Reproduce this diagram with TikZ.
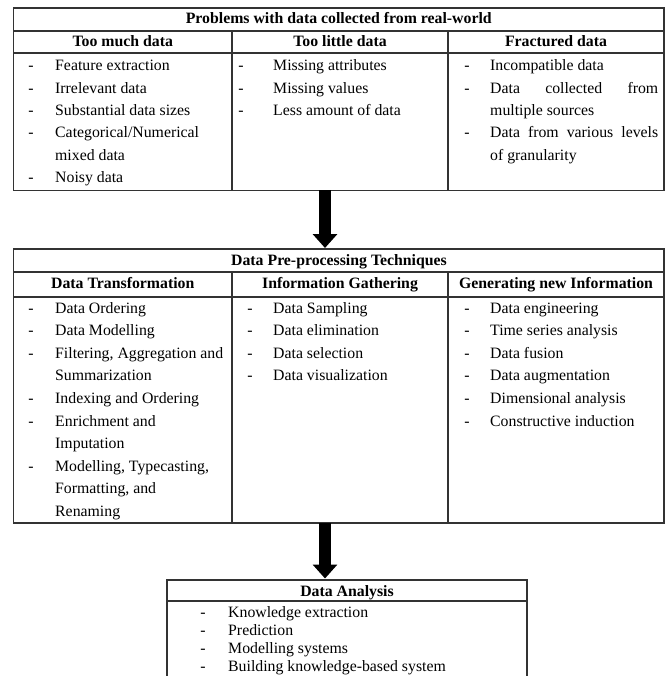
\documentclass[tikz,border=0pt]{standalone}
\usepackage{fontspec}
\setmainfont{Liberation Serif}
\usetikzlibrary{arrows.meta}
\begin{document}
\begin{tikzpicture}[x=1pt,y=-1pt,
  frame/.style={draw=black!80, line width=1.1pt},
  tbox/.style={frame, anchor=north west, inner sep=0pt, outer sep=0pt},
  itm/.style={anchor=base west, inner sep=0pt, font=\fontsize{15.8}{18}\selectfont},
  dsh/.style={anchor=base, inner sep=0pt, font=\fontsize{15.8}{18}\selectfont},
  hd/.style={anchor=base, inner sep=0pt, font=\fontsize{15.8}{18}\selectfont\bfseries},
  bigarrow/.style={line width=12pt, black, -{Triangle[length=14pt, width=24pt]}}]
\clip (0,0) rectangle (670,676);
\useasboundingbox (0,0) rectangle (670,676);

% ---------- Table 1 ----------
\node[tbox, minimum width=650.5pt, minimum height=182.5pt] (T1) at (13.5,8) {};
\draw[frame] (13.5,31) -- (664,31);
\draw[frame] (13.5,53) -- (664,53);
\draw[frame] (232,31) -- (232,190.5);
\draw[frame] (448,31) -- (448,190.5);
\node[hd] (t1title) at (338.75,24) {Problems with data collected from real-world};
\node[hd] (t1h1) at (122.75,46.7) {Too much data};
\node[hd] (t1h2) at (340,46.7) {Too little data};
\node[hd] (t1h3) at (556,46.7) {Fractured data};
% col 1
\foreach \n/\y in {1/70.7,2/93.1,3/115.5,4/137.9,6/182.7}
  \node[dsh] (t1d\n) at (31,\y) {-};
\foreach \n/\y/\t in {1/70.7/{Feature extraction},2/93.1/{Irrelevant data},3/115.5/{Substantial data sizes},4/137.9/{Categorical/Numerical},5/160.3/{mixed data},6/182.7/{Noisy data}}
  \node[itm] (t1a\n) at (55,\y) {\t};
% col 2
\foreach \n/\y/\t in {1/70.7/{Missing attributes},2/93.1/{Missing values},3/115.5/{Less amount of data}}{
  \node[dsh] (t1e\n) at (241,\y) {-};
  \node[itm] (t1b\n) at (273,\y) {\t};}
% col 3
\foreach \n/\y in {1/70.7,2/93.1,4/137.9}
  \node[dsh] (t1f\n) at (467,\y) {-};
\node[itm] (t1c1) at (490,70.7) {Incompatible data};
\node[itm] (t1c2) at (490,93.1) {\makebox[168pt][s]{Data collected from}};
\node[itm] (t1c3) at (490,115.5) {multiple sources};
\node[itm] (t1c4) at (490,137.9) {\makebox[168pt][s]{Data from various levels}};
\node[itm] (t1c5) at (490,160.3) {of granularity};

% ---------- Table 2 ----------
\node[tbox, minimum width=650.5pt, minimum height=274pt] (T2) at (13.5,249) {};
\draw[frame] (13.5,272) -- (664,272);
\draw[frame] (13.5,297) -- (664,297);
\draw[frame] (232,272) -- (232,523);
\draw[frame] (448,272) -- (448,523);
\node[hd] (t2title) at (339,265) {Data Pre-processing Techniques};
\node[hd] (t2h1) at (122.75,288.3) {Data Transformation};
\node[hd] (t2h2) at (340,288.3) {Information Gathering};
\node[hd] (t2h3) at (556,288.3) {Generating new Information};
% col 1
\foreach \n/\y in {1/313,2/335.6,3/358.2,5/403.4,6/426,8/471.2}
  \node[dsh] (t2d\n) at (31,\y) {-};
\foreach \n/\y/\t in {1/313/{Data Ordering},2/335.6/{Data Modelling},3/358.2/{Filtering, Aggregation and},4/380.8/{Summarization},5/403.4/{Indexing and Ordering},6/426/{Enrichment and},7/448.6/{Imputation},8/471.2/{Modelling, Typecasting,},9/493.8/{Formatting, and},10/516.4/{Renaming}}
  \node[itm] (t2a\n) at (55,\y) {\t};
% col 2
\foreach \n/\y/\t in {1/313/{Data Sampling},2/335.6/{Data elimination},3/358.2/{Data selection},4/380.8/{Data visualization}}{
  \node[dsh] (t2e\n) at (250,\y) {-};
  \node[itm] (t2b\n) at (273,\y) {\t};}
% col 3
\foreach \n/\y/\t in {1/313/{Data engineering},2/335.6/{Time series analysis},3/358.2/{Data fusion},4/380.8/{Data augmentation},5/403.4/{Dimensional analysis},6/426/{Constructive induction}}{
  \node[dsh] (t2f\n) at (467,\y) {-};
  \node[itm] (t2c\n) at (490,\y) {\t};}

% ---------- Table 3 ----------
\node[tbox, minimum width=360pt, minimum height=140pt] (T3) at (167,580) {};
\draw[frame] (167,601) -- (527,601);
\node[hd] (t3title) at (347,596) {Data Analysis};
\foreach \n/\y/\t in {1/617/{Knowledge extraction},2/635.3/{Prediction},3/653.6/{Modelling systems},4/671.9/{Building knowledge-based system}}{
  \node[dsh] (t3d\n) at (203,\y) {-};
  \node[itm] (t3a\n) at (228,\y) {\t};}

% ---------- Arrows ----------
\coordinate (ax) at (325,0);
\draw[bigarrow] (T1.south -| ax) -- ([yshift=1pt]T2.north -| ax);
\draw[bigarrow] (T2.south -| ax) -- ([yshift=1.5pt]T3.north -| ax);
\end{tikzpicture}
\end{document}
